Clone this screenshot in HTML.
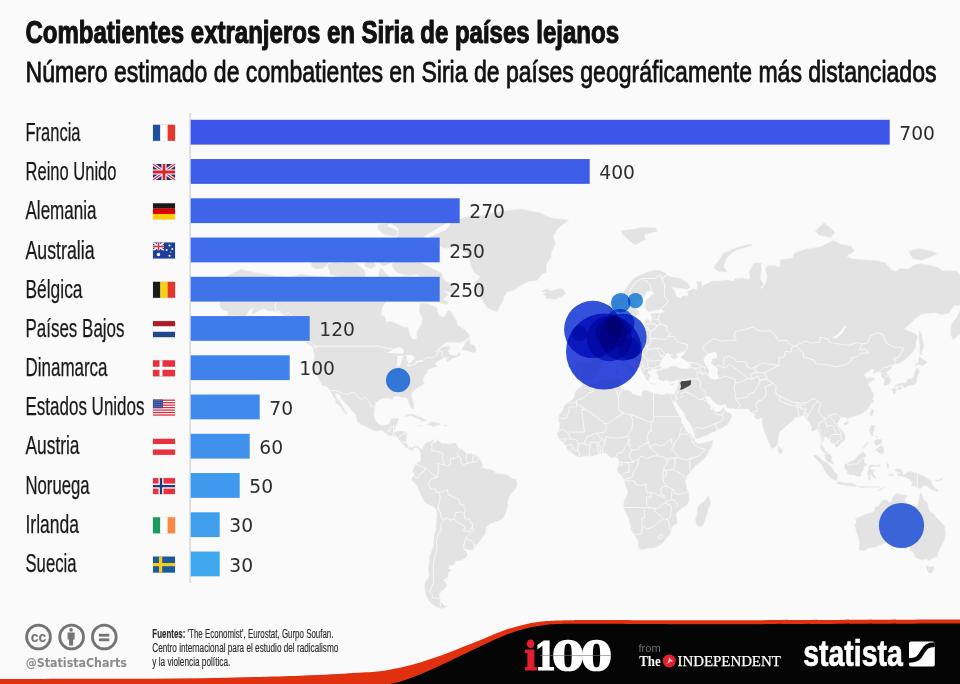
<!DOCTYPE html><html lang="es"><head><meta charset="utf-8"><title>Combatientes extranjeros en Siria de países lejanos</title>
<style>html,body{margin:0;padding:0;background:#fafafa}body{width:960px;height:684px;overflow:hidden}svg{display:block}text{font-family:"Liberation Sans",sans-serif}.lbl{font-size:25.5px;fill:#1a1a1a;stroke:#1a1a1a;stroke-width:0.25px}.val{font-family:"DejaVu Sans","Liberation Sans",sans-serif;font-size:19px;fill:#2e2e2e}.src{font-size:12px;fill:#2c2c2c;stroke:#2c2c2c;stroke-width:0.15px}</style></head><body>
<svg width="960" height="684" viewBox="0 0 960 684">
<rect width="960" height="684" fill="#fafafa"/>
<g id="map" fill="#e3e3e3" stroke="#f2f2f2" stroke-width="0.5" stroke-linejoin="round">
<path d="M214.3,292.0L218.9,281.3L225.7,276.5L240.5,269.1L255.2,272.4L275.7,275.7L289.4,277.3L300.8,274.1L312.1,275.7L323.5,276.5L334.9,281.3L346.2,282.8L357.6,280.9L369.0,282.8L377.0,281.3L380.4,267.4L387.2,274.5L391.8,278.5L396.3,281.3L403.1,276.1L410.0,276.5L411.1,282.5L403.1,288.2L398.6,292.0L396.3,295.7L390.6,297.5L384.9,302.9L382.2,308.1L381.1,314.9L384.9,316.3L386.1,321.5L391.8,321.5L396.3,323.5L403.1,326.7L408.8,327.3L409.5,334.2L413.1,339.4L416.8,338.7L416.8,331.1L421.3,324.7L422.2,318.2L419.1,311.6L420.2,302.9L428.1,303.6L437.2,308.1L438.4,314.9L444.1,317.3L447.5,310.5L449.8,310.5L455.5,318.2L457.7,324.7L464.6,329.5L469.1,334.2L469.8,337.2L466.8,338.7L462.3,342.3L455.5,342.6L446.4,342.6L442.9,345.3L438.4,349.1L435.0,352.3L438.4,350.6L442.9,346.8L449.8,345.9L450.2,348.5L448.2,350.3L449.3,354.0L452.0,354.9L456.6,355.4L459.1,352.0L460.5,354.9L457.7,357.1L452.0,358.8L447.0,361.9L445.9,359.6L449.8,356.8L448.6,357.4L444.1,357.7L439.5,360.5L436.1,362.4L435.7,364.6L437.2,366.5L433.8,367.6L428.1,369.8L427.7,372.7L424.7,375.4L423.8,379.3L422.9,379.3L424.3,383.8L421.3,385.8L417.9,387.6L415.6,389.6L412.2,392.2L411.5,395.9L413.4,402.1L414.3,407.0L413.4,409.0L411.8,409.0L410.4,406.5L408.4,402.6L408.1,399.2L405.4,397.2L402.0,397.7L398.6,396.2L395.2,396.4L392.9,396.9L393.3,399.2L390.6,399.2L387.2,398.2L382.6,398.2L379.2,400.2L375.4,403.4L375.1,407.0L374.2,411.9L374.0,415.9L375.4,419.8L377.4,423.1L380.4,424.7L382.6,425.4L387.2,424.5L389.5,423.1L390.6,419.5L391.8,418.8L397.4,417.9L399.0,418.6L397.4,422.6L396.3,425.4L395.6,427.3L394.5,430.8L396.3,431.3L400.9,431.0L405.4,431.7L407.2,433.1L406.5,437.8L406.3,441.2L406.1,442.4L407.7,444.7L410.0,447.0L412.2,447.4L415.0,445.8L417.9,446.1L420.4,447.9L419.3,451.1L417.9,448.1L415.6,447.2L413.4,448.8L413.8,450.9L411.1,450.2L407.7,448.6L406.1,447.9L403.1,444.7L401.3,442.8L397.4,437.8L396.3,437.3L391.8,435.9L388.3,435.5L386.1,433.8L382.6,430.6L380.4,430.8L377.0,431.5L372.4,430.1L369.0,428.5L364.5,426.1L360.6,424.5L356.9,421.4L356.5,417.9L355.4,414.3L350.8,409.5L347.8,405.8L345.1,403.1L341.7,399.7L339.4,394.7L335.6,392.9L335.6,395.9L339.4,400.9L342.8,405.8L345.1,410.2L347.4,413.8L346.2,414.5L341.7,409.9L341.0,407.0L337.2,404.1L334.9,402.6L336.0,400.4L333.1,396.4L330.3,390.9L327.1,387.1L322.4,385.8L319.4,380.6L317.8,377.2L314.9,372.7L313.7,370.3L313.9,366.0L313.3,363.2L314.4,354.9L312.8,347.9L316.7,347.7L316.7,346.2L312.1,343.2L306.4,340.3L305.3,335.7L300.8,329.5L298.5,326.3L293.9,321.5L288.2,316.6L283.7,315.9L279.1,312.2L273.4,311.6L267.8,310.9L264.4,308.8L258.7,310.9L255.2,313.2L251.2,314.3L253.0,308.8L254.1,307.4L249.6,310.5L247.3,313.9L245.0,316.6L240.5,320.9L235.9,324.1L230.2,327.0L225.7,328.6L221.6,329.2L227.9,325.4L232.5,323.1L237.1,318.9L238.6,315.6L235.9,315.6L231.4,315.6L227.9,315.9L227.9,311.6L222.3,309.8L220.0,306.4L218.9,303.9L221.6,301.1L225.7,300.4L230.2,299.3L230.2,295.7L225.7,295.7L221.1,295.7L217.7,293.8ZM430.4,236.4L446.4,229.8L450.9,222.4L464.6,216.9L482.8,215.3L500.9,211.3L521.4,209.0L539.6,212.5L551.0,218.1L569.2,219.7L557.8,228.7L553.3,236.4L555.5,243.7L552.1,250.7L551.0,257.5L546.5,264.0L546.5,272.4L541.9,274.5L537.4,280.5L528.2,281.7L521.4,285.2L514.6,290.1L507.8,292.0L504.4,295.7L503.2,301.1L499.8,306.4L497.5,311.6L494.1,310.9L487.3,308.1L482.8,301.1L479.3,295.7L475.9,288.2L474.8,282.5L480.5,276.5L473.6,272.4L471.4,266.2L469.1,257.5L464.6,250.7L455.5,247.5L444.1,248.4L435.0,242.7ZM576.0,379.3L574.9,374.9L576.5,368.7L575.3,363.2L578.3,361.3L584.0,361.9L588.5,362.1L592.4,362.1L593.8,359.1L594.0,354.9L591.5,351.4L586.3,349.4L585.8,347.7L589.7,346.8L592.9,347.4L592.4,344.1L594.2,345.0L597.0,344.7L599.9,342.9L600.4,340.6L603.8,339.4L606.1,337.2L607.2,334.2L610.1,332.6L612.4,332.0L615.8,331.7L616.3,329.5L615.2,326.3L614.9,321.5L618.1,320.9L620.6,319.2L620.4,323.1L619.7,326.3L618.6,328.6L619.2,329.8L621.5,331.1L624.9,329.8L628.8,331.4L634.0,329.5L638.6,328.6L640.9,329.8L644.3,327.3L644.5,322.2L645.4,319.9L647.7,319.2L651.1,321.5L652.0,317.3L650.0,314.3L653.4,313.2L660.2,312.9L664.8,311.6L661.3,309.5L655.6,310.2L648.8,311.9L645.4,309.2L645.0,305.3L645.4,301.1L647.7,298.6L652.2,294.6L654.3,293.1L651.6,290.9L647.0,291.6L645.0,295.7L640.9,300.0L637.0,302.9L635.6,308.1L637.0,309.8L639.3,311.6L638.6,314.3L635.2,316.3L634.0,319.9L632.9,324.1L629.5,324.7L628.8,326.7L625.8,326.7L625.2,324.1L623.6,319.9L622.0,315.6L620.6,313.9L618.1,315.6L614.7,317.9L612.4,318.2L609.2,315.6L608.3,311.6L607.9,308.1L607.9,304.6L611.3,301.8L615.8,299.3L620.4,296.4L623.8,292.0L626.1,288.2L629.5,283.2L632.9,279.3L637.5,276.1L643.1,273.7L648.8,271.2L655.2,270.0L660.2,270.4L665.9,272.9L667.0,275.3L671.6,276.9L678.4,277.7L687.5,282.5L690.5,287.1L687.5,289.4L681.8,288.6L675.0,287.9L671.6,287.1L675.0,291.2L676.1,296.1L680.7,297.9L683.0,295.7L688.2,295.3L687.5,291.2L693.2,288.6L696.6,289.4L697.3,285.6L696.1,280.9L701.1,281.3L702.3,286.3L705.7,284.0L712.5,280.9L718.2,281.3L720.5,280.5L727.3,279.7L733.0,280.9L735.3,278.5L743.2,277.7L748.9,279.3L750.1,276.1L748.5,272.0L751.2,268.3L753.5,262.8L761.4,262.8L761.4,270.4L760.3,278.5L763.7,284.4L760.3,288.2L762.6,287.9L766.0,281.7L767.1,276.5L764.9,269.1L768.3,265.3L774.0,265.3L779.6,267.0L780.3,259.7L792.1,257.9L794.4,253.0L805.8,248.9L819.5,247.0L833.8,240.3L839.9,243.7L851.3,246.1L854.7,250.7L846.8,256.6L851.3,258.4L865.0,259.7L877.5,260.6L885.4,262.8L891.1,269.5L895.7,271.2L900.2,268.3L908.2,268.7L915.0,264.5L921.8,263.6L937.8,267.0L942.3,270.8L956.0,270.4L960.5,275.7L971.9,276.1L983.2,274.5L994.6,275.3L1006.0,278.5L1028.8,286.3L1028.8,293.8L1006.0,293.8L1001.5,295.7L1000.3,302.9L991.2,305.7L984.4,311.6L974.1,311.6L968.5,316.6L965.0,318.9L967.3,324.7L965.0,327.9L960.5,334.2L957.1,336.6L953.0,340.3L950.7,334.2L950.9,327.9L952.5,321.5L956.0,318.2L960.5,309.8L967.3,304.6L960.5,305.7L953.7,305.7L949.1,313.2L942.3,314.9L935.5,312.9L927.5,313.6L920.7,314.3L915.0,319.2L909.3,324.7L904.3,328.9L909.3,331.1L915.0,333.2L918.0,336.6L916.1,341.8L915.7,347.7L911.6,353.4L905.9,359.1L899.1,363.8L894.5,364.3L892.2,366.0L891.6,368.7L887.7,371.4L886.6,373.3L888.8,375.4L890.9,379.3L890.7,383.0L887.7,384.8L884.3,386.1L883.8,383.2L884.7,379.3L882.0,377.2L880.9,374.9L881.6,372.7L879.3,371.4L874.0,373.8L872.9,374.3L874.0,370.1L871.8,369.0L868.4,371.9L865.0,373.5L864.3,375.4L867.2,378.6L871.1,377.2L875.2,378.8L874.7,379.9L870.6,381.7L867.9,384.5L870.2,387.6L871.8,390.9L873.8,393.4L874.0,395.9L872.9,398.4L873.4,401.4L870.6,404.6L868.6,407.8L866.1,410.4L862.7,413.1L860.4,414.5L856.3,415.9L853.6,416.7L850.2,417.9L847.7,418.6L847.4,420.7L846.1,417.9L843.3,417.4L839.9,419.0L838.8,421.4L837.0,423.8L838.8,427.3L841.5,430.1L844.0,432.4L845.2,436.6L844.9,440.1L842.2,442.4L839.9,443.8L839.2,446.1L835.4,447.9L835.1,445.1L834.0,443.8L832.0,443.3L830.4,440.8L828.5,438.9L826.0,436.8L824.0,437.1L824.0,440.1L822.4,442.8L822.2,446.3L824.5,448.4L825.1,451.1L827.4,452.0L829.7,453.8L831.7,456.6L832.0,460.7L833.6,464.3L831.7,464.1L827.0,461.1L825.1,457.7L824.7,453.8L823.3,452.0L820.6,449.3L820.1,447.0L821.0,443.5L820.6,440.1L819.9,436.6L819.0,433.1L818.5,429.6L816.7,428.7L813.8,431.3L811.0,430.8L811.5,427.3L809.7,423.1L806.9,419.8L805.8,417.9L804.7,415.2L802.4,415.5L799.0,417.1L794.4,417.9L794.0,420.2L790.3,422.4L787.6,425.0L783.7,428.5L780.8,430.8L779.0,432.4L778.7,436.6L778.3,440.1L778.0,444.0L776.2,446.3L774.4,447.2L772.8,449.0L770.5,447.0L769.4,443.5L767.6,440.1L766.0,435.5L764.4,432.0L763.3,428.5L762.1,423.8L761.9,419.0L761.4,417.1L760.3,418.6L758.0,419.5L755.8,418.6L753.5,415.9L755.8,414.8L752.3,413.1L750.1,411.9L748.9,409.9L747.8,408.7L743.2,409.0L736.4,409.2L730.7,408.5L726.9,408.0L725.7,404.6L721.6,405.3L718.2,405.3L714.8,402.9L712.1,400.2L710.7,397.2L707.5,396.4L705.7,397.2L706.2,400.2L707.5,402.9L710.2,405.3L710.7,408.2L712.1,410.2L713.0,407.5L713.7,407.0L713.9,409.9L715.9,411.4L719.4,411.4L722.8,408.7L724.6,406.5L725.0,409.9L727.3,412.4L730.0,413.1L732.5,415.5L730.3,419.8L728.0,423.8L725.0,426.1L721.6,428.5L717.1,429.6L715.3,431.5L710.2,433.1L706.8,435.5L702.3,436.8L698.9,438.2L695.5,438.5L694.3,435.5L693.9,432.0L692.5,428.5L689.8,423.8L685.7,418.3L684.1,413.1L681.1,409.5L678.4,405.3L676.1,402.1L675.7,398.4L674.5,402.1L674.3,402.6L672.7,400.9L670.7,397.4L670.0,394.2L673.9,393.9L675.4,392.2L676.1,389.6L677.9,385.8L678.2,382.5L678.9,380.1L676.1,380.1L673.9,381.4L670.4,381.7L666.1,379.9L663.6,381.4L660.2,380.1L658.6,379.3L658.4,375.9L656.8,373.3L656.1,371.4L659.1,370.3L662.5,370.1L662.7,368.2L667.0,368.4L671.6,366.0L676.1,366.0L679.5,367.9L683.0,368.7L687.5,368.7L690.9,367.3L690.9,364.6L687.5,361.9L684.1,359.6L681.8,358.5L680.7,356.8L683.0,354.9L685.7,351.4L683.0,351.7L679.5,352.9L676.1,354.3L677.3,356.8L679.5,356.6L676.8,358.0L673.9,359.4L672.7,358.8L670.4,356.6L672.9,354.9L669.3,354.3L668.2,353.1L666.3,353.7L664.1,356.8L662.0,359.1L661.3,361.9L659.7,364.1L660.2,366.0L662.0,367.9L660.2,368.7L659.1,369.0L656.8,370.1L655.6,369.5L653.4,369.0L651.1,369.2L650.6,371.4L648.4,370.3L648.1,372.7L649.3,374.1L651.1,376.2L650.0,377.5L648.8,378.6L649.3,380.6L647.2,380.6L645.6,379.3L644.7,376.2L643.6,374.1L641.5,371.4L640.6,367.9L640.2,366.0L637.5,363.8L634.0,361.9L631.1,359.6L629.5,357.1L627.4,357.4L627.7,355.7L624.5,356.8L624.7,359.9L627.4,361.9L628.8,364.9L632.9,366.3L635.2,368.7L638.6,370.9L638.1,371.9L635.2,370.1L634.3,372.2L635.4,374.1L634.0,375.4L632.2,377.0L632.4,374.9L632.9,372.7L631.5,371.1L629.5,369.5L626.1,367.9L624.3,366.5L621.5,364.6L619.9,361.9L618.8,360.2L616.5,359.4L613.6,361.0L610.6,363.0L607.9,362.1L605.6,361.9L603.6,363.2L603.8,365.2L601.5,367.6L598.3,369.2L595.8,372.7L596.7,374.9L594.9,377.2L592.0,379.9L586.5,380.1L584.2,381.7L582.2,380.4L580.6,378.8L578.3,379.3ZM583.1,382.5L584.4,382.2L589.7,383.8L592.0,384.3L596.5,382.2L599.9,380.6L603.3,379.9L607.9,379.9L613.6,379.3L618.8,378.6L621.5,379.3L620.4,381.2L621.1,383.2L619.7,386.3L622.0,388.9L624.9,389.9L626.5,389.9L631.1,391.2L632.2,393.7L636.3,394.9L640.9,396.2L642.0,393.9L642.2,391.2L645.4,389.9L649.3,391.4L653.4,392.9L657.9,393.9L662.5,394.9L665.9,393.7L668.2,393.4L670.0,394.2L670.7,397.4L672.7,402.1L674.3,405.8L676.1,409.9L677.7,413.1L680.2,416.7L681.1,419.0L681.4,422.6L684.1,426.1L686.4,431.5L690.2,434.3L693.6,437.8L695.0,439.4L694.8,441.0L697.7,443.5L702.3,442.8L708.0,441.7L713.0,440.3L712.8,443.5L711.4,447.0L708.7,451.6L706.2,456.1L702.3,460.7L697.7,464.1L693.2,468.6L690.9,471.6L688.2,473.9L686.8,477.1L685.2,481.2L686.4,484.6L686.4,488.0L688.4,491.5L689.1,496.1L689.1,501.4L686.4,505.4L681.8,508.4L678.9,511.2L676.1,513.6L677.0,518.3L677.3,523.1L672.7,526.3L671.1,528.0L671.1,531.6L670.0,534.8L667.0,537.6L664.3,541.6L660.2,545.1L656.1,547.4L652.2,548.2L647.7,548.2L642.0,550.0L638.6,548.4L637.9,544.8L638.1,541.6L635.9,537.8L634.0,534.1L631.3,530.4L630.4,525.5L629.5,520.2L627.2,516.0L624.3,510.0L623.3,506.5L623.8,501.9L626.1,496.8L627.9,492.6L626.5,488.0L624.9,483.4L624.3,481.2L623.8,478.9L622.0,476.6L618.8,473.2L617.0,469.8L618.1,466.8L618.6,463.0L618.8,460.0L618.1,458.4L615.8,457.0L612.4,457.5L610.1,457.7L607.9,454.8L605.6,453.2L602.2,453.2L598.8,454.1L595.4,455.2L592.0,456.6L588.5,455.9L585.1,455.9L579.4,457.5L576.0,456.1L571.9,453.2L568.1,450.4L566.5,448.1L565.8,445.4L562.8,442.8L561.2,441.0L558.5,439.2L558.3,436.6L556.7,433.8L559.0,430.8L559.6,426.1L559.4,423.1L557.8,419.0L559.6,414.3L562.4,410.7L563.5,407.0L566.9,402.6L570.3,400.9L573.8,398.4L574.4,395.9L574.2,393.4L575.6,390.9L578.3,388.4L581.0,386.8ZM708.7,494.9L710.9,503.0L709.1,507.7L706.8,514.8L704.6,521.9L703.0,525.8L699.6,526.8L696.6,525.1L695.2,519.5L697.3,513.6L697.1,507.7L700.0,504.0L704.1,501.4L706.4,497.9ZM420.4,447.9L421.8,449.3L424.7,443.5L427.0,442.4L430.4,441.5L433.8,439.2L434.3,441.2L433.2,443.5L436.8,441.2L437.2,439.6L440.7,442.4L441.8,443.5L446.4,443.3L449.8,444.2L453.2,443.1L455.5,443.1L457.7,445.8L458.9,448.1L462.3,449.3L464.6,452.0L466.8,453.8L471.4,453.8L473.6,454.3L477.1,456.1L479.3,457.7L480.5,460.7L482.8,463.6L482.8,466.4L481.6,467.5L485.0,468.0L486.6,469.3L489.6,469.1L494.1,470.9L495.7,473.2L500.9,473.9L505.5,474.1L508.9,475.9L512.3,478.4L516.2,479.3L517.3,483.4L517.1,486.2L515.3,489.6L512.3,492.6L508.9,497.2L507.8,501.9L507.8,506.5L506.2,511.2L504.4,516.0L501.4,519.5L498.2,520.7L494.1,522.4L490.7,523.6L487.3,526.3L485.7,529.7L485.7,533.6L482.8,537.1L480.5,540.3L477.7,543.3L474.8,547.4L472.5,550.0L468.6,550.2L465.0,548.9L463.6,549.4L466.4,551.8L467.5,554.4L465.5,558.3L461.1,560.4L455.5,560.9L454.8,564.9L449.1,565.8L448.6,569.0L451.6,570.4L448.6,572.3L447.5,577.3L442.9,580.1L446.4,583.0L446.8,585.9L442.9,590.3L440.0,592.7L439.1,596.3L440.9,599.0L440.7,601.4L444.1,605.5L448.2,606.1L445.2,607.4L440.7,608.7L436.1,607.1L432.7,604.6L428.6,600.8L426.3,596.3L425.0,591.8L424.7,585.9L424.7,582.4L428.1,578.7L429.3,574.5L428.1,570.4L428.6,566.3L429.3,562.3L429.3,556.2L431.1,551.8L433.4,546.6L433.8,540.3L434.1,535.3L435.4,530.4L436.1,525.5L436.3,520.7L437.0,516.0L436.6,509.8L433.8,507.2L429.3,504.9L425.4,502.8L422.9,499.5L421.1,495.1L419.1,491.0L416.8,486.2L415.0,483.4L412.2,481.2L411.5,478.2L413.8,475.2L414.7,473.2L412.5,472.5L412.7,469.8L414.3,467.5L414.5,465.7L417.0,464.5L417.7,462.3L420.2,461.1L421.1,458.6L420.2,455.0L420.4,452.2L419.3,451.1ZM855.2,518.3L856.3,521.9L854.5,525.1L855.8,529.2L856.3,532.4L857.9,536.6L859.3,541.6L859.5,546.1L858.1,548.7L861.5,550.5L865.0,550.5L869.5,547.6L874.0,547.6L878.6,545.9L883.1,543.6L888.8,542.3L894.5,541.6L897.9,542.8L901.3,544.8L904.3,549.7L905.9,549.2L909.3,545.4L910.0,547.1L909.1,550.7L911.6,551.2L913.9,553.1L915.0,557.0L918.4,559.1L923.0,560.4L926.4,559.1L929.3,561.2L933.2,558.0L937.5,556.7L938.4,552.3L940.5,547.6L943.4,542.8L944.6,539.1L945.7,533.6L945.0,529.2L944.8,525.5L941.8,523.1L939.6,520.2L936.6,517.9L934.3,514.1L930.9,511.9L929.1,510.0L928.2,506.1L927.1,501.9L924.1,500.2L923.0,496.8L920.9,492.2L919.1,496.1L918.6,500.7L917.3,505.4L915.0,507.9L911.6,506.1L908.2,503.7L904.8,501.4L905.9,498.4L907.7,495.4L904.8,494.9L900.2,494.2L896.8,493.3L894.5,495.4L892.2,497.9L891.1,501.4L888.2,501.9L886.6,499.5L883.1,499.5L880.4,503.0L877.5,506.5L874.5,507.7L874.5,510.8L871.8,512.6L867.2,513.6L862.7,515.2L859.3,517.1ZM925.7,565.5L929.8,566.6L933.9,566.0L933.9,569.6L932.1,572.6L929.1,573.4L927.1,570.4ZM583.5,342.9L588.5,342.3L593.1,341.2L599.5,339.7L600.4,335.1L597.2,334.2L596.5,332.0L593.1,327.9L592.0,325.1L589.7,324.7L592.0,321.5L592.4,319.6L587.9,319.2L589.7,316.3L585.1,316.3L584.0,319.9L582.9,323.1L584.0,326.3L585.6,328.6L589.2,328.2L589.7,331.7L589.7,333.2L586.3,333.2L586.9,335.7L584.7,337.8L589.2,339.1L589.7,339.7L586.7,340.3ZM582.9,336.6L582.6,332.6L584.0,329.5L582.4,327.3L579.4,327.0L577.2,329.5L573.8,330.4L574.9,333.6L573.1,337.2L574.9,338.7L578.3,337.8ZM541.2,291.6L546.5,288.6L551.0,290.9L555.5,289.4L560.1,288.2L563.5,289.4L565.8,293.8L562.4,296.4L555.5,299.3L549.9,299.0L545.3,297.9L546.5,295.7L541.9,294.2L546.5,292.7ZM621.5,230.8L630.6,229.3L642.0,227.2L655.6,227.7L657.9,231.3L644.3,234.9L645.4,239.8L635.2,245.1L629.5,241.3L626.1,237.4L621.5,233.9ZM713.7,267.9L718.2,271.6L727.3,272.0L723.9,266.2L726.2,258.4L735.3,250.7L752.3,245.6L751.2,243.7L737.5,247.0L723.9,253.0L719.4,259.7L714.8,264.9ZM814.9,231.3L824.0,222.4L835.4,232.3L830.8,237.8L819.5,235.4ZM908.2,250.7L919.5,248.4L933.2,251.6L937.8,253.9L921.8,260.6L912.7,258.8ZM894.3,387.1L897.9,386.3L902.5,385.6L904.8,388.4L908.2,385.6L912.3,385.3L915.0,384.3L917.0,381.9L917.3,376.7L919.5,372.7L918.4,367.6L915.7,368.7L915.0,371.4L913.9,375.4L911.6,378.6L908.2,378.6L907.0,380.6L905.9,382.7L902.5,383.0L897.9,383.5L894.5,385.8ZM915.5,367.3L917.3,364.6L922.5,366.0L927.5,362.4L924.8,360.5L919.5,356.3L918.6,359.1L918.0,362.7L915.7,363.2L915.0,366.0ZM892.2,388.4L895.7,387.9L896.8,389.6L895.2,393.7L893.6,394.2L892.7,391.4L891.6,389.6ZM897.9,387.1L902.5,386.6L901.8,388.4L899.1,390.2L897.7,388.9ZM919.5,330.1L921.8,334.2L922.5,340.3L924.1,346.2L921.8,352.0L923.0,354.3L919.5,354.9L919.5,349.1L919.5,343.2L918.9,337.2L919.1,332.6ZM872.9,409.0L874.0,410.7L871.8,416.7L870.0,414.8L870.0,412.4L871.8,409.5ZM843.8,423.1L847.9,421.2L849.0,422.4L846.8,425.2L843.8,424.7ZM778.5,445.1L781.2,448.1L782.8,450.9L781.9,453.2L779.6,454.1L778.0,451.6L778.0,448.1ZM870.6,425.0L874.5,425.0L874.7,429.6L873.1,432.0L873.6,435.0L876.3,435.7L878.6,437.8L877.0,437.8L874.0,435.7L871.3,435.9L870.2,433.6L869.0,430.3L870.4,427.3ZM874.0,451.6L877.0,448.1L881.6,445.1L884.3,449.3L883.6,453.2L882.0,454.3L878.6,452.7L876.3,450.4ZM874.0,440.5L877.5,438.9L882.0,439.4L882.0,443.5L878.6,444.7L876.3,446.3L874.7,444.0ZM863.1,448.4L866.1,445.8L868.6,441.7L867.7,441.5L865.0,444.7L862.7,447.4ZM813.3,454.8L818.3,455.7L821.0,458.9L824.7,461.4L828.1,463.6L832.0,467.5L834.2,471.4L837.6,474.3L837.2,480.7L834.5,480.7L829.2,476.6L826.0,472.7L823.5,468.6L821.0,464.1L817.6,460.7L813.8,456.6ZM835.8,483.0L838.8,481.2L843.3,482.8L847.9,483.0L852.9,483.2L857.0,485.3L856.5,487.1L851.3,486.4L844.5,485.3L838.8,484.4ZM844.5,464.1L846.8,463.6L849.7,461.8L853.6,460.2L857.0,456.6L860.4,453.4L862.7,451.6L866.8,455.2L864.5,457.7L864.5,461.8L867.0,465.2L863.8,466.8L863.8,469.8L861.1,473.2L860.9,476.6L857.0,476.6L853.6,474.8L850.2,475.0L847.2,473.9L846.8,470.5L844.5,468.2ZM869.0,465.9L871.3,464.5L876.3,465.5L880.9,463.9L879.7,466.6L872.9,466.4L870.0,467.5L871.8,469.8L877.0,469.3L874.0,471.6L872.9,473.9L875.2,476.1L876.3,479.6L874.0,478.4L871.8,475.5L870.4,474.3L870.4,480.0L868.4,480.0L868.4,475.5L867.0,473.9L868.4,469.8ZM894.5,469.3L897.9,468.4L901.3,469.3L903.6,475.0L909.3,471.1L913.9,472.5L917.3,473.4L923.0,475.5L928.2,478.9L932.1,481.2L931.4,483.0L934.3,486.9L938.9,491.0L937.3,491.5L933.2,490.5L930.5,488.7L926.4,485.7L923.0,486.4L920.7,488.5L917.3,488.3L913.9,485.7L910.5,486.4L912.3,483.4L910.5,480.0L905.9,477.7L900.9,476.1L898.6,476.6L896.8,473.9L900.2,472.7L896.8,472.0L894.5,470.5ZM858.1,486.0L862.7,486.2L867.2,486.2L871.8,486.6L876.3,486.2L879.7,486.2L879.7,487.3L874.0,487.8L867.2,487.6L861.5,488.0L858.1,487.3ZM877.5,491.0L880.9,488.5L885.4,486.6L884.3,488.0L879.7,490.8ZM886.6,463.0L888.8,464.1L889.3,466.8L887.7,469.3L886.6,466.4ZM887.7,474.3L894.1,474.3L893.4,475.9L888.2,475.5ZM934.3,480.2L938.9,479.8L943.0,477.1L942.3,479.6L938.9,481.6L934.3,481.2ZM403.4,416.9L407.7,414.3L412.2,413.8L416.8,415.5L420.2,417.1L424.7,419.0L427.7,420.9L420.2,421.7L420.9,420.0L417.9,419.0L413.4,416.7L410.0,415.7L406.5,416.4ZM427.2,424.7L430.4,421.7L435.0,421.9L439.5,423.1L440.9,424.7L437.2,425.4L433.8,426.8L430.4,425.7ZM418.4,425.2L422.9,425.7L422.9,426.4L418.6,426.1ZM443.6,425.0L447.3,425.2L447.0,426.1L443.6,426.1ZM456.6,288.2L450.9,284.4L442.9,278.5L441.8,273.3L433.8,269.1L425.9,264.9L419.1,261.9L412.2,258.8L402.0,258.8L392.9,259.7L391.8,266.2L396.3,272.4L403.1,274.5L410.0,275.7L416.8,274.5L420.2,276.5L423.6,281.3L429.3,283.2L430.4,288.2L428.1,292.0L420.2,293.1L420.2,296.4L427.0,295.7L433.8,299.3L440.7,302.9L446.4,305.0L448.6,301.8L442.9,299.3L448.6,294.6L444.1,290.9L450.9,293.1L455.5,290.9ZM330.3,274.5L339.4,277.3L350.8,279.3L359.9,279.3L365.6,276.5L364.5,270.4L357.6,264.0L350.8,261.0L341.7,262.8L334.9,260.6L326.9,264.9L329.2,270.4ZM312.1,267.0L316.7,269.5L323.5,268.3L329.2,262.8L328.1,256.6L321.2,255.3L313.3,258.4L311.0,264.0ZM391.8,246.1L403.1,247.0L416.8,244.6L421.3,238.8L428.1,233.9L441.8,226.1L455.5,218.1L446.4,212.5L425.9,211.9L403.1,215.3L391.8,220.8L387.2,226.1L398.6,231.3L396.3,238.8ZM380.4,244.6L391.8,248.4L413.4,249.8L414.5,254.4L400.9,255.3L387.2,254.4L378.1,250.7ZM379.2,257.5L390.6,257.5L391.8,262.8L382.6,266.2L379.2,262.8ZM364.5,259.7L373.6,258.4L375.8,266.2L371.3,269.1L364.5,266.2ZM330.3,248.4L341.7,246.1L355.4,248.4L355.4,253.0L346.2,255.3L334.9,253.9L330.3,251.6ZM359.9,246.1L371.3,245.6L374.7,250.7L369.0,253.0L359.9,251.6ZM378.1,224.5L389.5,222.4L398.6,228.7L396.3,236.4L384.9,234.9L378.1,229.8ZM398.6,292.0L405.4,290.1L412.2,295.7L413.4,299.3L405.4,301.1L398.6,298.6L400.9,294.6ZM461.6,350.0L465.7,341.8L469.6,338.7L470.2,343.2L474.8,345.6L476.4,350.6L474.8,352.9L470.2,352.0L465.7,350.3ZM304.6,340.9L312.1,342.6L315.8,347.7L312.6,347.4L306.4,343.2ZM624.9,376.7L632.0,376.2L630.9,380.1L624.9,377.8ZM615.2,368.7L618.6,368.7L618.3,373.5L615.8,374.1ZM616.1,364.6L618.1,363.2L617.9,367.3L616.5,367.1ZM650.0,383.0L656.3,383.8L656.1,384.5L650.2,384.0ZM670.0,384.5L675.2,382.7L673.6,384.5L671.6,385.6Z"/>
<path fill="#fafafa" stroke="none" d="M703.4,358.2L708.0,353.4L713.7,352.0L717.1,353.4L717.1,357.7L712.5,359.1L710.9,363.2L714.8,366.0L718.2,369.2L717.1,372.7L719.4,378.0L714.8,380.1L710.2,378.6L708.0,375.4L709.1,370.6L706.8,366.5L704.6,363.2ZM387.2,352.9L392.9,349.1L399.7,347.1L403.8,349.7L403.8,353.4L398.6,353.4L391.8,353.1ZM396.8,366.0L400.2,366.0L403.1,355.4L397.4,356.3ZM404.3,354.9L412.2,354.9L414.5,358.2L410.6,363.2L408.8,362.7L406.5,359.1L407.0,356.8ZM407.0,367.1L416.8,364.1L416.8,363.2L407.0,365.7ZM415.2,362.4L422.9,361.6L422.9,360.2L415.6,361.0ZM832.4,338.4L836.5,338.1L842.2,333.2L846.3,326.3L845.2,325.4L841.1,331.1L836.5,335.1L833.1,337.2Z"/>
<path fill="none" stroke="#fafafa" stroke-width="0.85" stroke-linejoin="round" d="M275.7,275.7L275.7,310.5L280.3,311.6L283.7,314.9L288.2,312.6L292.8,316.6L297.3,323.1L300.8,325.4L300.8,328.9M316.7,346.2L379.9,346.2L381.1,346.8L387.2,348.2L392.9,349.1M408.8,356.8L409.0,363.2L407.7,365.4L408.8,366.8M416.8,362.4L422.5,360.5L426.6,357.7L433.8,357.7L436.6,355.1L439.1,350.8L441.8,351.1L442.3,355.7L444.1,357.7M330.1,390.9L335.6,390.4L344.0,393.9L350.3,393.9L350.3,392.7L354.2,392.7L358.8,397.9L362.2,399.7L363.3,397.7L365.8,397.7L370.1,403.4L371.3,406.1L375.4,407.3M386.7,434.3L387.2,432.9L387.9,430.6L390.8,430.6L389.5,428.0L393.6,426.6L395.6,425.0M393.6,426.6L393.6,431.0L395.8,431.5M393.3,434.5L397.0,436.8M391.5,435.9L393.3,434.5L393.6,431.0M397.9,437.8L400.9,435.9L403.6,433.6L407.2,433.1M401.5,442.2L406.1,442.6M407.9,449.0L408.6,445.8M434.3,440.5L431.6,443.5L432.0,447.0L431.8,450.6L437.0,451.6L442.9,453.4L442.3,457.3L443.4,462.3L444.3,464.8M444.3,464.8L437.7,463.6L438.6,469.8L437.5,477.1M437.5,477.1L435.7,476.1L430.7,473.0L426.3,468.0L425.2,467.7M425.2,467.7L422.9,466.6L420.2,465.9L417.0,464.5M425.2,467.7L424.5,470.9L419.5,474.3L417.9,478.0L415.0,477.7L413.8,475.2M437.5,477.1L430.9,479.1L428.4,484.1L430.7,488.9L435.9,489.2L435.9,492.6L438.2,492.4M438.2,492.4L440.2,496.1L439.5,501.4L438.6,504.2L438.2,507.7L436.6,509.8M438.2,492.4L441.8,491.9L447.7,489.9L447.9,494.2L453.6,497.2L458.9,499.1L459.8,504.7L463.9,504.9L464.1,507.5L465.7,509.3L464.3,513.1L464.1,514.1M464.1,514.1L462.0,511.9L455.9,512.6L454.1,518.8M454.1,518.8L450.2,520.2L448.2,518.6L445.7,517.9L443.6,520.2M438.2,507.7L440.2,512.4L441.3,517.1L443.6,520.2M443.6,520.2L440.9,524.3L441.1,530.4L437.9,534.1L437.2,538.6L436.1,541.6L437.2,546.1L436.1,553.1L434.5,558.3L433.4,563.6L433.2,570.4L433.4,575.9L433.8,581.6L431.6,587.3L429.7,591.8L432.0,594.7L432.7,597.8L440.9,599.0M440.4,599.6L440.4,606.8M454.1,518.8L457.7,522.6L462.7,525.1L465.5,526.8L463.4,530.9L468.0,531.4L469.6,531.4L472.3,527.0M464.1,514.1L464.8,518.6L469.8,519.3L470.5,523.1L473.0,523.4L472.3,527.0M472.3,527.0L474.1,529.9L469.6,533.8L465.5,538.3M465.5,538.3L464.1,544.1L463.6,547.9M465.5,538.3L470.0,540.1L473.6,542.6L475.0,547.1M444.3,464.8L447.5,465.9L450.9,464.1L450.4,458.2L453.9,458.4L457.7,457.3L458.4,455.7M458.4,455.7L456.8,454.1L460.0,448.6M458.4,455.7L460.5,457.5L461.1,463.0L463.4,464.5L468.0,463.2M468.0,463.2L466.1,459.8L466.4,454.1M468.0,463.2L472.3,462.3L476.8,461.8L478.9,457.9M472.3,462.3L473.6,454.3M591.5,384.3L592.6,388.4L593.8,391.4L588.5,392.9L584.0,397.7L576.7,400.4L576.7,403.9M576.7,402.9L566.5,402.9M576.7,403.9L576.7,407.0L569.2,407.0L569.2,413.3L566.9,414.3L566.9,418.3L557.8,418.3M576.7,403.9L585.6,409.5L599.2,418.8L599.2,419.8L603.8,421.9L604.0,423.8L606.1,423.5M585.6,409.5L581.7,409.5L584.0,429.6L584.4,432.0L572.2,432.2L570.3,431.7L568.7,433.6M568.7,433.6L563.5,429.4L559.0,430.8M616.1,379.6L615.4,384.5L613.6,387.6L617.0,391.9L618.1,396.4M618.1,396.4L619.9,392.9L622.7,389.1M618.1,396.4L619.0,404.6L618.1,406.3L619.2,410.7L623.8,413.1M623.8,413.1L613.6,419.3L609.7,422.6L606.1,423.5M623.8,413.1L628.8,415.2L630.6,414.3L651.1,422.6M653.6,393.2L653.4,416.7L653.4,421.4L651.1,421.4L651.1,422.6M653.4,416.7L680.4,416.7M606.1,423.5L606.1,429.6L604.5,432.2L598.8,433.1L597.0,433.1M630.6,414.3L632.9,420.7L631.8,428.7L627.4,436.2M627.4,436.2L623.8,437.3L618.1,438.2L612.4,437.8L606.1,436.6L604.7,440.8M604.7,440.8L602.0,439.4L601.3,438.5L598.5,436.4L597.0,433.1M597.0,433.1L592.0,435.0L586.7,437.3L584.0,443.8M651.1,422.6L651.1,431.5L648.6,432.0L647.0,438.5L648.6,442.4M648.6,442.4L645.9,443.3L639.7,447.0L638.8,449.3L634.0,450.0L631.8,450.4M631.8,450.4L628.4,444.7L631.3,444.7M628.4,444.7L629.5,438.9L628.6,437.5L627.4,436.2M628.8,439.2L626.5,444.7L623.8,449.3L622.2,452.5L618.1,452.9L616.1,456.6M604.7,440.8L605.1,443.5L602.9,447.0L602.6,452.9M598.5,442.4L600.1,447.0L600.1,453.4M596.5,442.2L597.6,447.0L597.9,451.6L599.2,453.6M590.1,442.4L590.4,445.8L589.2,451.6L590.1,455.9M584.0,443.8L587.4,445.1L590.1,444.9M590.1,442.4L596.5,442.2L598.5,442.4L602.0,439.4M584.0,443.8L582.4,443.1L578.3,444.2M578.3,444.2L577.6,450.2L579.4,454.3L579.4,457.5M578.3,444.2L577.6,441.5L575.3,439.2L570.6,439.2L568.7,433.6M570.6,439.2L565.3,438.7L558.5,439.2M565.3,438.7L565.3,440.8L562.4,442.6M566.2,447.0L568.1,444.9L571.5,444.7L573.1,448.1L570.3,451.8M573.1,448.1L575.3,450.6L577.6,450.2M650.0,447.7L654.5,443.8L660.2,445.8L664.8,444.7L669.3,440.1L672.0,439.6L671.6,443.1L673.9,445.8M648.6,442.6L650.0,447.7L654.1,450.9L658.8,455.9M673.9,445.8L674.5,443.3L676.1,440.1L678.9,437.8L679.5,434.8L680.7,428.5L684.1,426.1M679.5,434.8L683.0,433.8L687.5,434.3L693.0,438.9M693.0,438.9L691.6,442.4L694.3,442.4M694.3,442.4L693.9,444.7L698.9,447.7L705.7,449.3L698.9,456.1L692.0,457.9M692.0,457.9L686.4,459.8L683.0,459.3L678.4,457.5M673.9,445.8L671.6,449.3L675.0,452.2L676.8,455.2L678.4,457.5M692.0,457.9L689.8,460.7L689.8,469.3L690.9,471.4M678.4,457.5L674.8,457.9L667.0,459.1L666.6,459.5M674.8,457.9L675.0,464.1L673.9,466.8L673.6,469.8M673.6,469.8L682.0,474.3L685.7,478.2M666.6,459.5L667.7,462.5L664.1,467.5L663.8,470.7M666.6,459.5L663.6,457.3L658.8,455.9L652.2,456.1L647.7,458.4L640.9,456.1L638.8,459.5M631.8,450.4L629.7,453.8L629.5,456.8L632.9,462.5L634.0,460.2L638.8,459.5M618.8,462.3L622.2,462.5L626.8,462.5L632.9,462.5M618.8,465.2L622.2,465.2L622.2,462.5M626.8,462.5L629.5,464.3L628.4,468.6L629.5,472.0L624.9,472.5L623.3,474.3L621.8,476.4M638.8,459.5L637.0,467.5L633.4,472.0L632.7,476.6L629.3,478.4L626.3,478.0L624.3,480.7M624.5,481.2L626.5,480.9L634.3,480.9L634.9,483.9L640.6,485.7L646.1,484.1L646.3,489.6L647.2,493.1L651.1,492.4L651.1,497.2M651.1,497.2L646.5,497.2L646.5,504.7L649.7,507.9M623.3,507.2L628.4,507.5L638.4,507.5L649.7,507.9L654.1,508.4M644.3,509.6L644.3,518.3L642.0,518.3L642.0,525.1L642.0,533.8L636.3,534.6L634.0,534.3M642.0,525.1L646.5,529.2L652.2,527.2L655.6,524.8L657.9,522.4L663.4,518.8M654.1,508.4L655.6,512.4L659.5,514.8L663.4,518.8L667.7,519.3M654.1,508.4L657.9,508.6L662.2,504.2L665.7,503.3M651.1,492.4L654.1,493.1L657.7,494.7L661.1,496.1L664.3,498.2L664.3,495.4L661.1,494.5L661.1,488.7L662.2,486.9L666.6,486.2M666.6,486.2L671.3,488.9L672.3,489.2L671.6,493.8L671.3,498.4L671.6,499.5M665.7,503.3L665.2,501.6L671.6,499.5L675.0,500.7L677.9,504.2L676.8,506.8M672.3,489.2L673.9,489.4L675.2,493.8L681.8,494.2L688.4,491.5M666.6,486.2L663.6,482.3L662.9,477.5L662.9,475.0L663.8,470.7M662.9,477.5L665.9,476.6L666.6,473.0L665.9,470.0L663.8,470.7M665.9,470.0L673.6,469.8M665.7,503.3L671.3,505.8L670.9,511.2L670.4,516.7L667.7,519.3M667.7,519.3L669.3,524.3L669.1,527.7L669.5,529.9L671.3,530.2M658.2,536.8L661.3,534.3L663.4,536.3L660.9,539.3L658.6,538.3L658.2,536.8M576.5,366.3L582.4,367.1L580.6,371.4L579.4,375.4L579.7,378.8M592.4,362.1L598.1,364.1L603.8,364.9M602.2,340.0L606.1,343.2L609.7,344.7L611.1,344.7L615.2,346.2L613.8,350.3M613.8,350.3L610.1,354.3L612.4,355.1L612.4,359.9L613.6,361.0M604.2,339.1L607.9,339.1L610.1,340.9M612.9,333.2L612.4,336.3L610.1,337.8L610.1,340.9L611.1,344.7M616.3,328.2L619.0,328.6M628.8,331.4L629.7,335.7L630.6,340.3L630.2,340.6M630.2,340.6L624.3,342.3L627.9,346.8M627.9,346.8L626.1,350.6L620.4,350.6L618.3,350.6L613.8,350.3M612.4,355.1L617.0,354.9L620.4,352.3L618.3,350.6M620.4,352.3L624.3,352.0L627.7,353.4L627.7,356.0M627.9,346.8L630.6,346.2L635.2,346.8L635.4,349.1L633.1,352.3L627.7,353.4M630.2,340.6L634.0,342.3L639.3,344.7L647.7,345.9M639.3,344.7L635.2,346.8M635.4,349.1L639.3,349.7L646.8,347.9M647.7,345.9L651.1,341.8L650.2,338.7L650.0,335.7L650.9,331.4L648.4,329.8L641.1,329.8M650.9,331.4L655.2,328.6L657.0,325.7L660.7,324.1M644.3,324.4L653.1,323.5L657.0,325.7M648.4,329.8L648.4,327.9L645.0,327.0M651.8,318.6L658.6,319.9M660.2,313.2L658.8,315.6L658.6,319.9L660.7,324.1M660.7,324.1L666.6,326.0L667.0,331.1L670.4,333.2L668.2,336.9M650.2,338.7L657.9,338.7L665.9,339.4L668.2,336.9M668.2,336.9L673.9,336.3L677.3,341.8L683.0,343.5L687.5,344.4L687.0,349.1L683.4,351.7M648.6,349.1L652.2,349.4L657.0,348.2L660.7,356.3L664.1,356.8M657.0,348.2L660.2,348.2L664.8,353.7L660.7,356.3M647.7,345.9L646.8,347.9L648.6,349.1L644.3,354.3L642.7,354.6M642.7,354.6L639.3,355.1L634.0,353.4L633.1,352.3M642.7,354.6L645.2,358.2L647.7,359.1L648.1,359.9L653.4,361.3L657.9,360.2L661.6,361.3M648.1,359.9L647.5,365.2L648.6,367.9M648.6,367.9L653.4,367.9L656.3,366.8L660.2,366.0M656.3,366.8L655.6,369.5M642.0,372.2L644.3,369.2L648.6,367.9M644.3,369.2L643.1,366.0L640.6,366.3M639.3,355.1L639.7,358.0L640.6,361.9L642.7,363.8L643.1,366.0M627.7,356.0L632.2,357.1L639.7,358.0M632.2,357.1L633.4,360.5L636.5,363.2L638.6,364.6M622.0,314.9L624.5,308.1L624.3,301.1L628.4,296.8L630.6,289.4L635.2,282.5L642.0,278.5L643.1,278.5M651.6,290.9L650.2,284.4L643.1,278.5L655.0,278.5L660.2,274.5L662.5,278.1L666.6,275.3M660.2,309.8L668.2,301.8L664.3,295.7L664.8,284.4L661.6,278.9L666.6,275.3M678.4,381.4L680.0,379.9L692.7,378.8L698.4,378.8L696.6,373.0L698.4,372.2L695.9,369.5L695.5,368.4L690.9,367.3M687.5,362.1L693.2,362.7L697.7,364.1L702.1,366.3L705.2,368.2L707.1,366.5M702.1,366.3L698.9,367.9L695.5,368.4M698.9,367.9L702.3,372.7L702.3,374.3M698.4,372.2L702.3,374.3L705.7,372.2L707.7,375.7M684.8,388.6L685.7,391.9L680.7,393.4L683.0,395.9L681.8,397.2L680.0,397.7L678.4,399.2L676.1,398.7M685.7,391.9L692.0,394.4L698.2,399.2L702.3,399.4L705.0,400.9M702.3,399.4L704.3,396.9L705.7,397.2M698.4,378.8L701.1,382.5L699.8,387.1L705.2,392.2L705.2,394.7L706.8,397.2M676.4,389.4L677.7,388.9M674.3,393.9L675.9,398.4M677.7,390.4L677.3,393.4L676.1,398.4M693.9,429.9L697.1,427.5L703.4,428.5L714.8,423.8L721.6,421.4L723.2,416.7L722.1,415.0L716.2,414.5L713.9,411.4M722.1,415.0L723.9,411.9L724.8,409.5M714.8,423.8L717.3,429.4M719.1,378.6L725.0,376.2L731.4,378.0L735.7,380.4L734.1,387.9L735.3,393.4L735.0,397.7L739.4,404.1L740.3,405.6L736.6,409.0M735.0,397.7L738.7,398.7L747.3,397.4L748.2,394.2L754.2,392.4L755.8,388.4L758.3,386.3L759.4,380.9L766.0,379.3M735.7,383.0L739.8,382.5L743.2,380.9L747.8,378.3L751.2,379.3L754.6,377.8L758.0,375.7L759.4,380.1L766.0,379.3M747.8,378.3L742.1,374.1L737.5,370.1L733.0,366.5L728.5,364.6L726.2,367.9L723.9,367.9L723.9,357.7M723.9,367.9L719.4,365.2L715.9,366.5M723.9,357.7L729.6,356.0L735.3,359.6L737.5,361.9L744.1,361.3L746.9,363.2L746.6,366.0L751.2,368.7L756.9,366.0L758.0,365.2M758.0,365.2L763.7,363.2L767.1,363.8L779.0,365.4L779.2,357.7L784.2,356.8L785.3,351.4L791.0,352.0L791.7,347.9L795.1,345.9M779.0,365.4L769.4,370.3L764.2,372.7L767.1,378.0L766.0,379.3M764.2,372.7L756.9,372.5L754.2,369.2L758.0,365.2M751.2,379.3L750.7,374.1L756.9,372.5M708.0,353.4L702.7,347.7L706.8,343.2L713.7,338.7L721.6,341.2L729.6,340.3L736.4,340.3L734.1,336.6L735.3,331.4L744.4,329.5L753.5,327.0L758.0,330.4L763.7,331.4L770.5,330.4L773.7,333.2L778.5,340.9L786.5,340.3L789.9,344.4L795.1,345.9M795.1,345.9L800.1,343.5L805.8,341.2L811.5,343.2L819.5,342.3L820.1,337.2L828.5,339.1L829.7,342.3L839.9,344.1L849.0,345.3L857.0,342.6L862.0,343.8M862.0,343.8L867.2,343.2L870.6,335.7L877.5,332.6L883.1,334.8L886.6,343.2L893.4,346.8L903.6,347.9L899.1,357.1L894.5,358.2L895.2,363.2L893.6,364.9M796.2,345.9L803.5,353.4L803.5,357.1L813.8,359.9L815.6,363.8L826.3,364.6L835.4,366.8L845.6,364.6L851.3,361.0L851.3,357.7L857.0,356.8L860.4,353.4L869.0,352.9L865.0,349.1L859.3,349.7L860.4,346.8L862.0,343.8M879.3,371.4L884.3,367.1L887.7,367.3L888.4,366.0L893.6,364.9M884.7,377.2L888.4,375.4M766.0,379.3L773.5,383.2L776.2,386.3L775.5,390.7L776.0,393.9L780.8,396.7L786.5,399.2L792.1,402.1L796.9,402.4L799.0,403.4L804.9,402.6L806.9,402.6L811.5,399.2L815.4,398.7L817.9,401.6M780.8,396.7L778.7,400.2L786.0,403.6L791.7,405.6L796.9,406.1L796.9,402.4M799.0,403.4L799.0,405.1L805.8,404.8L804.9,402.6M751.7,412.6L758.0,410.7L755.8,405.8L756.4,402.1L762.3,399.7L766.0,394.7L766.2,390.2L764.9,387.1L773.5,383.2M799.0,417.1L798.5,411.1L796.9,407.5L800.8,407.0L800.8,408.7L806.7,409.5L804.0,411.9L804.0,414.3L806.5,412.6L807.2,418.3M807.2,418.3L808.5,414.3L811.7,409.0L813.1,405.6L817.9,401.6M817.9,401.6L821.0,403.4L818.5,410.7L821.7,416.7L824.2,417.9L826.7,418.6L829.0,415.7M824.2,417.9L824.2,420.5L819.5,422.6L818.3,427.3L820.8,430.1L819.9,433.1L822.2,438.9L821.0,444.0M824.2,420.5L826.3,422.6L826.7,427.3L828.8,425.7L833.1,425.4L834.9,429.6L836.5,434.5M829.0,415.7L833.1,420.5L835.4,424.5L838.8,428.9L841.1,433.1L841.1,434.5M829.0,415.7L836.1,413.6L839.2,416.7L842.2,417.9M830.6,440.8L829.7,436.6L832.0,434.5L836.5,434.5L841.1,434.5L841.1,439.4L837.2,441.0L837.6,442.6L834.0,443.8M824.2,452.9L826.3,454.3L828.8,453.4M845.8,463.0L849.0,465.2L853.6,464.1L857.7,464.1L859.3,460.7L864.0,457.9M917.3,473.4L917.3,488.3"/>
<path fill="#474747" stroke="none" d="M680.1,383.2L681.4,381.3L685.6,381L690.2,380.2L691.2,380.4L690.8,384.5L689.3,385.8L684.3,388.4L681.2,389.8L679.8,389.4L681,387.1L680.8,384.9Z"/>
</g>
<g id="bubbles">
<circle cx="604.0" cy="351.6" r="37.7" fill="#fafafa" fill-opacity="0.6"/>
<circle cx="592.8" cy="329.4" r="28.4" fill="#fafafa" fill-opacity="0.6"/>
<circle cx="623.0" cy="337.0" r="23.3" fill="#fafafa" fill-opacity="0.6"/>
<circle cx="609.5" cy="338.5" r="22.4" fill="#fafafa" fill-opacity="0.6"/>
<circle cx="611.0" cy="333.0" r="15.4" fill="#fafafa" fill-opacity="0.6"/>
<circle cx="620.0" cy="323.5" r="14.1" fill="#fafafa" fill-opacity="0.6"/>
<circle cx="629.0" cy="348.5" r="10.8" fill="#fafafa" fill-opacity="0.6"/>
<circle cx="579.6" cy="333.5" r="7.6" fill="#fafafa" fill-opacity="0.6"/>
<circle cx="620.8" cy="302.8" r="9.5" fill="#fafafa" fill-opacity="0.6"/>
<circle cx="635.4" cy="300.7" r="7.3" fill="#fafafa" fill-opacity="0.6"/>
<circle cx="604.0" cy="351.6" r="38.0" fill="#344bdf" style="mix-blend-mode:multiply"/>
<circle cx="592.8" cy="329.4" r="28.7" fill="#3452e0" style="mix-blend-mode:multiply"/>
<circle cx="623.0" cy="337.0" r="23.6" fill="#3558e0" style="mix-blend-mode:multiply"/>
<circle cx="609.5" cy="338.5" r="22.7" fill="#3565e1" style="mix-blend-mode:multiply"/>
<circle cx="611.0" cy="333.0" r="15.7" fill="#356ce2" style="mix-blend-mode:multiply"/>
<circle cx="620.0" cy="323.5" r="14.4" fill="#3672e2" style="mix-blend-mode:multiply"/>
<circle cx="629.0" cy="348.5" r="11.1" fill="#3680e3" style="mix-blend-mode:multiply"/>
<circle cx="579.6" cy="333.5" r="7.9" fill="#378de4" style="mix-blend-mode:multiply"/>
<circle cx="620.8" cy="302.8" r="9.8" fill="#3687e4" style="mix-blend-mode:multiply"/>
<circle cx="635.4" cy="300.7" r="7.6" fill="#3794e4" style="mix-blend-mode:multiply"/>
</g>
<circle cx="398.1" cy="380.2" r="12.1" fill="#3175d6"/>
<circle cx="901.5" cy="525.5" r="22.6" fill="#3a64d7"/>
<rect x="189.5" y="113" width="1.2" height="470" fill="#cfcfcf"/>
<rect x="190.7" y="119.80" width="699.0" height="24.8" fill="#3d55e8"/>
<text class="lbl" x="25.5" y="140.9" textLength="55.0" lengthAdjust="spacingAndGlyphs">Francia</text>
<text class="val" x="899.3" y="139.8" textLength="35.7" lengthAdjust="spacingAndGlyphs">700</text>
<g transform="translate(153.0,124.8)"><rect x="-0.5" y="-0.5" width="23" height="17" fill="#000" opacity="0.10"/><rect x="0.00" y="0" width="7.38" height="16" fill="#1f4fa3"/><rect x="7.33" y="0" width="7.38" height="16" fill="#ffffff"/><rect x="14.67" y="0" width="7.38" height="16" fill="#e8362d"/></g>
<rect x="190.7" y="159.05" width="399.0" height="24.8" fill="#3d5de9"/>
<text class="lbl" x="25.5" y="180.1" textLength="91.0" lengthAdjust="spacingAndGlyphs">Reino Unido</text>
<text class="val" x="599.3" y="179.0" textLength="35.7" lengthAdjust="spacingAndGlyphs">400</text>
<g transform="translate(153.0,164.0)"><rect x="-0.5" y="-0.5" width="23" height="17" fill="#000" opacity="0.10"/><clipPath id="cgb"><rect width="22" height="16"/></clipPath><g clip-path="url(#cgb)"><rect width="22" height="16" fill="#25337a"/><path d="M0,0L22,16M22,0L0,16" stroke="#fff" stroke-width="3.2"/><path d="M0,0L22,16M22,0L0,16" stroke="#d8232f" stroke-width="1.2"/><path d="M11,0V16M0,8H22" stroke="#fff" stroke-width="5"/><path d="M11,0V16M0,8H22" stroke="#d8232f" stroke-width="2.8"/></g></g>
<rect x="190.7" y="198.30" width="269.0" height="24.8" fill="#3e64e9"/>
<text class="lbl" x="25.5" y="219.3" textLength="71.0" lengthAdjust="spacingAndGlyphs">Alemania</text>
<text class="val" x="469.3" y="218.3" textLength="35.7" lengthAdjust="spacingAndGlyphs">270</text>
<g transform="translate(153.0,203.3)"><rect x="-0.5" y="-0.5" width="23" height="17" fill="#000" opacity="0.10"/><rect x="0" y="0.00" width="22" height="5.38" fill="#1a1a1a"/><rect x="0" y="5.33" width="22" height="5.38" fill="#dd0000"/><rect x="0" y="10.67" width="22" height="5.38" fill="#ffce00"/></g>
<rect x="190.7" y="237.55" width="249.0" height="24.8" fill="#3e6cea"/>
<text class="lbl" x="25.5" y="258.5" textLength="69.0" lengthAdjust="spacingAndGlyphs">Australia</text>
<text class="val" x="449.3" y="257.6" textLength="35.7" lengthAdjust="spacingAndGlyphs">250</text>
<g transform="translate(153.0,242.5)"><rect x="-0.5" y="-0.5" width="23" height="17" fill="#000" opacity="0.10"/><clipPath id="cau"><rect width="11" height="8"/></clipPath><rect width="22" height="16" fill="#1f3f9a"/><g clip-path="url(#cau)"><path d="M0,0L11,8M11,0L0,8" stroke="#fff" stroke-width="1.8"/><path d="M5.5,0V8M0,4H11" stroke="#fff" stroke-width="2.6"/><path d="M5.5,0V8M0,4H11" stroke="#e0303a" stroke-width="1.4"/></g><circle cx="5.5" cy="12.0" r="1.7" fill="#fff"/><circle cx="16.5" cy="3.0" r="1.0" fill="#fff"/><circle cx="16.5" cy="13.2" r="1.0" fill="#fff"/><circle cx="13.6" cy="7.5" r="1.0" fill="#fff"/><circle cx="19.3" cy="6.5" r="1.0" fill="#fff"/><circle cx="17.8" cy="9.6" r="0.6" fill="#fff"/></g>
<rect x="190.7" y="276.80" width="249.0" height="24.8" fill="#3e73ea"/>
<text class="lbl" x="25.5" y="297.7" textLength="57.0" lengthAdjust="spacingAndGlyphs">Bélgica</text>
<text class="val" x="449.3" y="296.8" textLength="35.7" lengthAdjust="spacingAndGlyphs">250</text>
<g transform="translate(153.0,281.8)"><rect x="-0.5" y="-0.5" width="23" height="17" fill="#000" opacity="0.10"/><rect x="0.00" y="0" width="7.38" height="16" fill="#1a1a1a"/><rect x="7.33" y="0" width="7.38" height="16" fill="#f7d117"/><rect x="14.67" y="0" width="7.38" height="16" fill="#e8362d"/></g>
<rect x="190.7" y="316.05" width="119.0" height="24.8" fill="#3e7beb"/>
<text class="lbl" x="25.5" y="336.9" textLength="99.0" lengthAdjust="spacingAndGlyphs">Países Bajos</text>
<text class="val" x="319.3" y="336.1" textLength="35.7" lengthAdjust="spacingAndGlyphs">120</text>
<g transform="translate(153.0,321.1)"><rect x="-0.5" y="-0.5" width="23" height="17" fill="#000" opacity="0.10"/><rect x="0" y="0.00" width="22" height="5.38" fill="#ae1c28"/><rect x="0" y="5.33" width="22" height="5.38" fill="#ffffff"/><rect x="0" y="10.67" width="22" height="5.38" fill="#21468b"/></g>
<rect x="190.7" y="355.30" width="99.0" height="24.8" fill="#3f82eb"/>
<text class="lbl" x="25.5" y="376.0" textLength="82.0" lengthAdjust="spacingAndGlyphs">Dinamarca</text>
<text class="val" x="299.3" y="375.3" textLength="35.7" lengthAdjust="spacingAndGlyphs">100</text>
<g transform="translate(153.0,360.3)"><rect x="-0.5" y="-0.5" width="23" height="17" fill="#000" opacity="0.10"/><rect width="22" height="16" fill="#e8303f"/><rect x="6.5" y="0" width="3" height="16" fill="#fff"/><rect x="0" y="6.5" width="22" height="3" fill="#fff"/></g>
<rect x="190.7" y="394.55" width="69.0" height="24.8" fill="#3f8aec"/>
<text class="lbl" x="25.5" y="415.2" textLength="119.0" lengthAdjust="spacingAndGlyphs">Estados Unidos</text>
<text class="val" x="269.3" y="414.6" textLength="23.8" lengthAdjust="spacingAndGlyphs">70</text>
<g transform="translate(153.0,399.6)"><rect x="-0.5" y="-0.5" width="23" height="17" fill="#000" opacity="0.10"/><rect width="22" height="16" fill="#fff"/><rect x="0" y="0.00" width="22" height="1.23" fill="#d8283a"/><rect x="0" y="2.46" width="22" height="1.23" fill="#d8283a"/><rect x="0" y="4.92" width="22" height="1.23" fill="#d8283a"/><rect x="0" y="7.38" width="22" height="1.23" fill="#d8283a"/><rect x="0" y="9.85" width="22" height="1.23" fill="#d8283a"/><rect x="0" y="12.31" width="22" height="1.23" fill="#d8283a"/><rect x="0" y="14.77" width="22" height="1.23" fill="#d8283a"/><rect width="10" height="8.6" fill="#2b3f8f"/><rect x="0.8" y="0.8" width="0.8" height="0.8" fill="#cfd4ee"/><rect x="2.7" y="0.8" width="0.8" height="0.8" fill="#cfd4ee"/><rect x="4.6" y="0.8" width="0.8" height="0.8" fill="#cfd4ee"/><rect x="6.5" y="0.8" width="0.8" height="0.8" fill="#cfd4ee"/><rect x="8.4" y="0.8" width="0.8" height="0.8" fill="#cfd4ee"/><rect x="0.8" y="2.8" width="0.8" height="0.8" fill="#cfd4ee"/><rect x="2.7" y="2.8" width="0.8" height="0.8" fill="#cfd4ee"/><rect x="4.6" y="2.8" width="0.8" height="0.8" fill="#cfd4ee"/><rect x="6.5" y="2.8" width="0.8" height="0.8" fill="#cfd4ee"/><rect x="8.4" y="2.8" width="0.8" height="0.8" fill="#cfd4ee"/><rect x="0.8" y="4.8" width="0.8" height="0.8" fill="#cfd4ee"/><rect x="2.7" y="4.8" width="0.8" height="0.8" fill="#cfd4ee"/><rect x="4.6" y="4.8" width="0.8" height="0.8" fill="#cfd4ee"/><rect x="6.5" y="4.8" width="0.8" height="0.8" fill="#cfd4ee"/><rect x="8.4" y="4.8" width="0.8" height="0.8" fill="#cfd4ee"/><rect x="0.8" y="6.8" width="0.8" height="0.8" fill="#cfd4ee"/><rect x="2.7" y="6.8" width="0.8" height="0.8" fill="#cfd4ee"/><rect x="4.6" y="6.8" width="0.8" height="0.8" fill="#cfd4ee"/><rect x="6.5" y="6.8" width="0.8" height="0.8" fill="#cfd4ee"/><rect x="8.4" y="6.8" width="0.8" height="0.8" fill="#cfd4ee"/></g>
<rect x="190.7" y="433.80" width="59.0" height="24.8" fill="#3f91ec"/>
<text class="lbl" x="25.5" y="454.4" textLength="54.0" lengthAdjust="spacingAndGlyphs">Austria</text>
<text class="val" x="259.3" y="453.8" textLength="23.8" lengthAdjust="spacingAndGlyphs">60</text>
<g transform="translate(153.0,438.8)"><rect x="-0.5" y="-0.5" width="23" height="17" fill="#000" opacity="0.10"/><rect x="0" y="0.00" width="22" height="5.38" fill="#e8303f"/><rect x="0" y="5.33" width="22" height="5.38" fill="#ffffff"/><rect x="0" y="10.67" width="22" height="5.38" fill="#e8303f"/></g>
<rect x="190.7" y="473.05" width="49.0" height="24.8" fill="#3f99ed"/>
<text class="lbl" x="25.5" y="493.6" textLength="64.0" lengthAdjust="spacingAndGlyphs">Noruega</text>
<text class="val" x="249.3" y="493.1" textLength="23.8" lengthAdjust="spacingAndGlyphs">50</text>
<g transform="translate(153.0,478.1)"><rect x="-0.5" y="-0.5" width="23" height="17" fill="#000" opacity="0.10"/><rect width="22" height="16" fill="#e8303f"/><rect x="5.5" y="0" width="5" height="16" fill="#fff"/><rect x="0" y="5.5" width="22" height="5" fill="#fff"/><rect x="6.8" y="0" width="2.4" height="16" fill="#1f3a7a"/><rect x="0" y="6.8" width="22" height="2.4" fill="#1f3a7a"/></g>
<rect x="190.7" y="512.30" width="29.0" height="24.8" fill="#40a0ed"/>
<text class="lbl" x="25.5" y="532.8" textLength="53.5" lengthAdjust="spacingAndGlyphs">Irlanda</text>
<text class="val" x="229.3" y="532.3" textLength="23.8" lengthAdjust="spacingAndGlyphs">30</text>
<g transform="translate(153.0,517.3)"><rect x="-0.5" y="-0.5" width="23" height="17" fill="#000" opacity="0.10"/><rect x="0.00" y="0" width="7.38" height="16" fill="#169b62"/><rect x="7.33" y="0" width="7.38" height="16" fill="#ffffff"/><rect x="14.67" y="0" width="7.38" height="16" fill="#ff883e"/></g>
<rect x="190.7" y="551.55" width="29.0" height="24.8" fill="#40a8ee"/>
<text class="lbl" x="25.5" y="572.0" textLength="51.0" lengthAdjust="spacingAndGlyphs">Suecia</text>
<text class="val" x="229.3" y="571.6" textLength="23.8" lengthAdjust="spacingAndGlyphs">30</text>
<g transform="translate(153.0,556.6)"><rect x="-0.5" y="-0.5" width="23" height="17" fill="#000" opacity="0.10"/><rect width="22" height="16" fill="#1a5a9c"/><rect x="6" y="0" width="3.2" height="16" fill="#f6cb1c"/><rect x="0" y="6.4" width="22" height="3.2" fill="#f6cb1c"/></g>
<text x="25.5" y="43.3" font-size="30.7" font-weight="bold" fill="#111" stroke="#111" stroke-width="1.1" stroke-linejoin="round" textLength="593.5" lengthAdjust="spacingAndGlyphs">Combatientes extranjeros en Siria de países lejanos</text>
<text x="25.5" y="81.7" font-size="29.3" fill="#111" stroke="#111" stroke-width="0.8" stroke-linejoin="round" textLength="911" lengthAdjust="spacingAndGlyphs">Número estimado de combatientes en Siria de países geográficamente más distanciados</text>
<path d="M0.0,679.0C16.7,679.0 66.7,678.9 100.0,678.8C133.3,678.7 166.7,678.7 200.0,678.2C233.3,677.7 274.3,676.6 300.0,675.7C325.7,674.8 340.7,673.8 354.0,673.0C367.3,672.2 372.2,672.1 380.0,671.2C387.8,670.3 393.9,669.0 400.8,667.5C407.8,666.0 414.8,664.0 421.7,661.9C428.6,659.8 435.6,657.5 442.5,655.0C449.4,652.5 456.4,649.5 463.3,646.7C470.2,643.9 477.2,641.2 484.2,638.4C491.1,635.6 498.1,632.4 505.0,630.0C511.9,627.6 518.8,625.7 525.8,624.2C532.8,622.7 539.8,621.8 546.7,621.1C553.7,620.4 558.6,620.5 567.5,620.2C576.4,620.0 574.6,619.9 600.0,619.9C625.4,619.9 660.0,620.3 720.0,620.3C780.0,620.2 920.0,619.7 960.0,619.6L960,684L0,684Z" fill="#e0300f"/>
<path d="M388.0,684.5C390.1,684.0 395.2,683.3 400.8,681.5C406.4,679.7 414.8,676.6 421.7,673.8C428.6,670.9 435.6,667.6 442.5,664.4C449.4,661.2 456.4,657.9 463.3,654.6C470.2,651.3 477.2,647.8 484.2,644.6C491.1,641.4 498.1,638.0 505.0,635.2C511.9,632.5 518.8,630.1 525.8,628.4C532.8,626.7 539.8,625.6 546.7,624.8C553.7,624.0 558.6,624.0 567.5,623.8C576.4,623.6 574.6,623.6 600.0,623.7C625.4,623.8 660.0,624.2 720.0,624.2C780.0,624.2 920.0,623.7 960.0,623.6L960,684L388,684.5Z" fill="#050505"/>
<circle cx="38.5" cy="637" r="11.9" fill="none" stroke="#747474" stroke-width="2.8"/>
<circle cx="71.6" cy="637" r="11.9" fill="none" stroke="#747474" stroke-width="2.8"/>
<circle cx="104.3" cy="637" r="11.9" fill="none" stroke="#747474" stroke-width="2.8"/>
<text x="30.8" y="641.6" font-size="15" font-weight="bold" fill="#747474" textLength="15.6" lengthAdjust="spacingAndGlyphs">cc</text>
<circle cx="71.1" cy="629.9" r="1.8" fill="#747474"/><path d="M67.6,632.4h7v7h-1.5v6.2h-4v-6.2h-1.5z" fill="#747474"/>
<rect x="98.9" y="633.8" width="10.4" height="2.8" fill="#747474"/><rect x="98.9" y="638.4" width="10.4" height="2.8" fill="#747474"/>
<text x="25.8" y="666.9" style="font-family:'DejaVu Sans','Liberation Sans',sans-serif" font-size="12" font-weight="bold" fill="#8a8a8a" textLength="101" lengthAdjust="spacingAndGlyphs">@StatistaCharts</text>
<text class="src" x="152.3" y="638.1" textLength="181.2" lengthAdjust="spacingAndGlyphs"><tspan font-weight="bold">Fuentes:</tspan> 'The Economist', Eurostat, Gurpo Soufan.</text>
<text class="src" x="152.3" y="652.3" textLength="186" lengthAdjust="spacingAndGlyphs">Centro internacional para el estudio del radicalismo</text>
<text class="src" x="152.3" y="666.4" textLength="78" lengthAdjust="spacingAndGlyphs">y la violencia política.</text>
<text y="669.7" style="font-family:'DejaVu Serif','Liberation Serif',serif" font-weight="bold" font-size="38.5"><tspan x="524.3" fill="#e3202f" stroke="#e3202f" stroke-width="1.2" textLength="13" lengthAdjust="spacingAndGlyphs">i</tspan><tspan x="534.1" fill="#fff" stroke="#fff" stroke-width="1.2" textLength="22.8" lengthAdjust="spacingAndGlyphs">1</tspan><tspan x="552" fill="#fff" stroke="#fff" stroke-width="1.6" textLength="32" lengthAdjust="spacingAndGlyphs">0</tspan><tspan x="581" fill="#fff" stroke="#fff" stroke-width="1.6" textLength="31" lengthAdjust="spacingAndGlyphs">0</tspan></text>
<rect x="540" y="655" width="71" height="0.6" fill="#777"/>
<text x="638.5" y="651.7" font-size="10.5" fill="#6e6e6e" textLength="22.3" lengthAdjust="spacingAndGlyphs">from</text>
<text x="639.2" y="666.3" style="font-family:'Liberation Serif',serif" font-weight="bold" font-size="14.5" fill="#fff" textLength="21.6" lengthAdjust="spacingAndGlyphs">The</text>
<circle cx="669.2" cy="661" r="6.5" fill="#e3202f"/><path d="M666.3,663.8c1.5,-1 2.2,-2.6 2.4,-4.4l1.2,-2.2l0.6,2.4c1.2,0.4 2,1.2 2.4,2.2c-1,-0.4 -2,-0.5 -2.8,-0.2c-0.6,1.2 -1.8,2.2 -3.8,2.2z" fill="#f6c9c9"/>
<text x="677.5" y="666.3" style="font-family:'Liberation Serif',serif" font-size="14.5" fill="#fff" stroke="#fff" stroke-width="0.25" textLength="103.3" lengthAdjust="spacingAndGlyphs">INDEPENDENT</text>
<text x="803.2" y="666.4" font-weight="bold" font-size="37.6" fill="#fff" stroke="#fff" stroke-width="0.7" textLength="99.6" lengthAdjust="spacingAndGlyphs">statista</text>
<rect x="909" y="641.4" width="25.8" height="25" rx="2" fill="#fff"/><path d="M909,660.4C917,660.4 919.5,657.5 922.3,652.4C925,647.5 927.5,644.6 934.8,644.6" fill="none" stroke="#050505" stroke-width="4.6"/>
</svg></body></html>
